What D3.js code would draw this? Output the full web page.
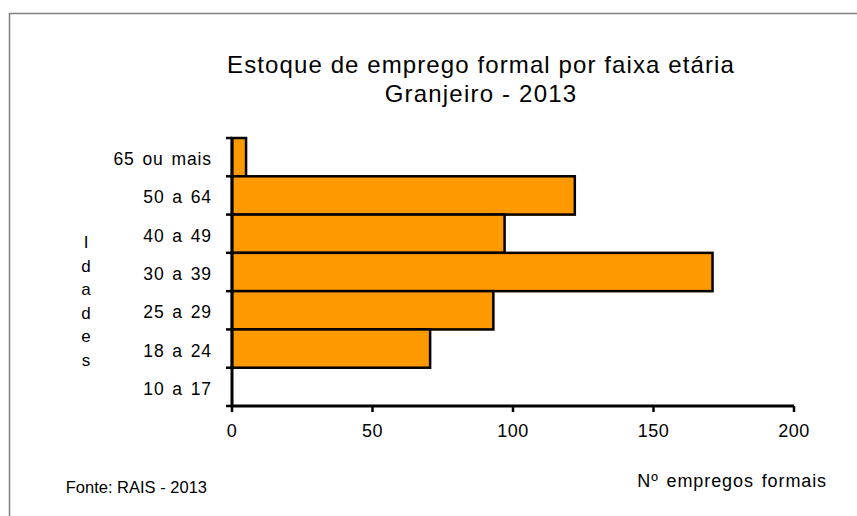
<!DOCTYPE html>
<html><head><meta charset="utf-8">
<script src="https://cdn.jsdelivr.net/npm/d3@7/dist/d3.min.js"></script>
<style>body{margin:0;background:#fff;} svg{display:block;font-family:"Liberation Sans",Arial,sans-serif;}</style>
</head><body>
<script>
const categories = ["65 ou mais","50 a 64","40 a 49","30 a 39","25 a 29","18 a 24","10 a 17"];
const values = [5,122,97,171,93,70.5,0];
const xTicks = [0,50,100,150,200];
const titleLines = ["Estoque de emprego formal por faixa etária","Granjeiro - 2013"];
const yAxisTitle = "Idades";
const xAxisTitle = "Nº empregos formais";
const source = "Fonte: RAIS - 2013";

const W=857,H=516;
const svg=d3.select("body").append("svg").attr("width",W).attr("height",H);
svg.append("rect").attr("x",9.5).attr("y",13.5).attr("width",900).attr("height",600)
  .attr("fill","#fff").attr("stroke","#808080").attr("stroke-width",1.5);

const x=d3.scaleLinear().domain([0,200]).range([232,794]);
const y=d3.scaleBand().domain(categories).range([138,406]).padding(0);

// bars (orange offset edge + black outline)
svg.selectAll("rect.sh").data(values).enter().append("rect").attr("class","sh")
  .attr("x",x(0)+1).attr("y",(d,i)=>y(categories[i])+1)
  .attr("width",d=>x(d)-x(0)).attr("height",y.bandwidth())
  .attr("fill","#FF9900").attr("display",d=>d>0?null:"none");
svg.selectAll("rect.bar").data(values).enter().append("rect").attr("class","bar")
  .attr("x",x(0)).attr("y",(d,i)=>y(categories[i]))
  .attr("width",d=>x(d)-x(0)).attr("height",y.bandwidth())
  .attr("fill","#FF9900").attr("stroke","#000").attr("stroke-width",2.5)
  .attr("display",d=>d>0?null:"none");

// y axis
const gy=svg.append("g");
gy.append("line").attr("x1",x(0)).attr("x2",x(0)).attr("y1",137).attr("y2",406).attr("stroke","#000").attr("stroke-width",3);
const edges=categories.map(c=>y(c)).concat([406]);
gy.selectAll("line.t").data(edges).enter().append("line").attr("class","t")
  .attr("x1",x(0)-6).attr("x2",x(0)).attr("y1",d=>d).attr("y2",d=>d).attr("stroke","#000").attr("stroke-width",2.5);
gy.selectAll("text").data(categories).enter().append("text")
  .attr("x",212).attr("y",c=>y(c)+y.bandwidth()/2+8).attr("text-anchor","end")
  .attr("font-size",17.5).attr("letter-spacing",0.9).attr("word-spacing",2).attr("fill","#000").text(c=>c);

// x axis
const gx=svg.append("g");
gx.append("line").attr("x1",x(0)-1.5).attr("x2",x(200)).attr("y1",406).attr("y2",406).attr("stroke","#000").attr("stroke-width",3);
gx.selectAll("line.t").data(xTicks).enter().append("line").attr("class","t")
  .attr("x1",d=>x(d)).attr("x2",d=>x(d)).attr("y1",406).attr("y2",412).attr("stroke","#000").attr("stroke-width",2.5);
gx.selectAll("text").data(xTicks).enter().append("text")
  .attr("x",d=>x(d)).attr("y",437).attr("text-anchor","middle").attr("font-size",18).attr("letter-spacing",0.5).attr("fill","#000").text(d=>d);

// title
svg.selectAll("text.title").data(titleLines).enter().append("text").attr("class","title")
  .attr("x",481).attr("y",(d,i)=>73+i*29).attr("text-anchor","middle").attr("font-size",24)
  .attr("letter-spacing",(d,i)=>i===0?1.1:1.2).attr("fill","#000").text(d=>d);

// y axis title (stacked letters)
svg.selectAll("text.yt").data(yAxisTitle.split("")).enter().append("text").attr("class","yt")
  .attr("x",86).attr("y",(d,i)=>248+i*23.5).attr("text-anchor","middle").attr("font-size",17).attr("fill","#000").text(d=>d);

svg.append("text").attr("x",827).attr("y",487).attr("text-anchor","end").attr("font-size",18).attr("letter-spacing",0.9).attr("word-spacing",2).attr("fill","#000").text(xAxisTitle);
svg.append("text").attr("x",207).attr("y",493).attr("text-anchor","end").attr("font-size",16.5).attr("letter-spacing",0).attr("fill","#000").text(source);
</script>
</body></html>
